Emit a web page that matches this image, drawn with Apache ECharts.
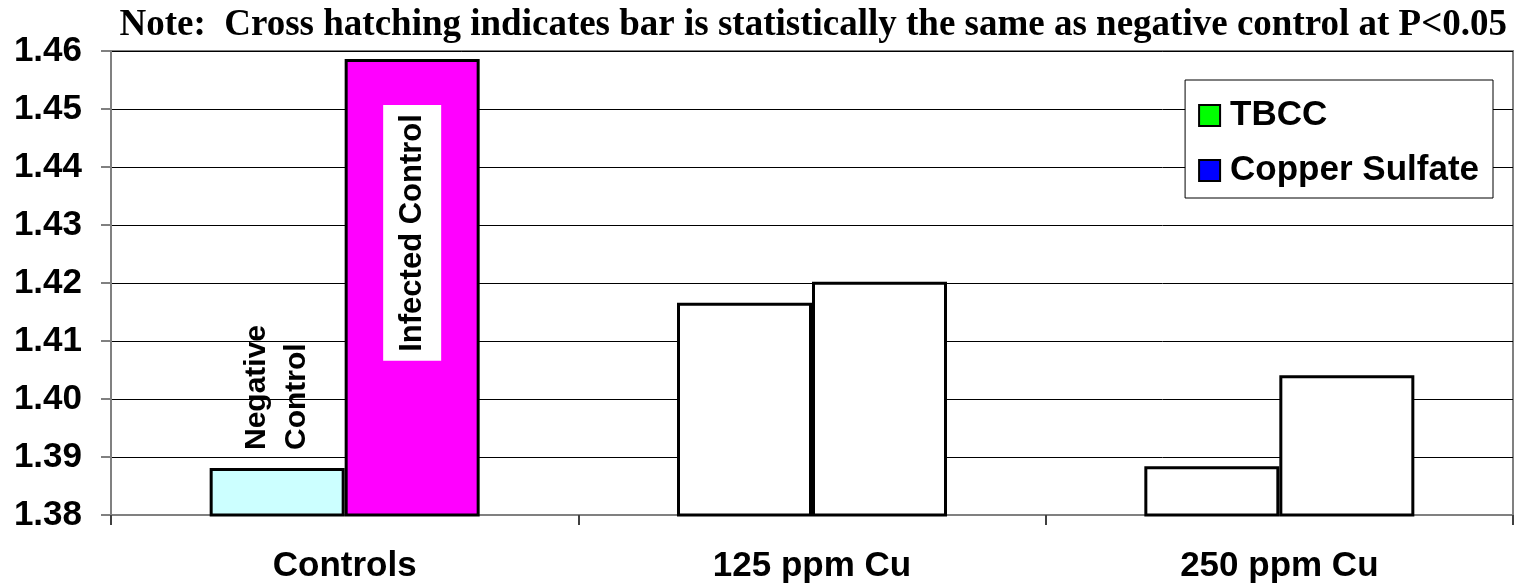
<!DOCTYPE html>
<html>
<head>
<meta charset="utf-8">
<script src="https://cdn.jsdelivr.net/npm/echarts@6/dist/echarts.min.js"></script>
<style>
  html, body { margin: 0; padding: 0; background: #fff; }
  #chart { width: 1524px; height: 587px; }
</style>
</head>
<body>
<div id="chart"></div>
<script>
// data
var categories = ['Controls', '125 ppm Cu', '250 ppm Cu'];
var tbcc = [1.3881, 1.4166, 1.3884];
var copperSulfate = [1.4586, 1.4202, 1.4041];
var yTicks = [1.38, 1.39, 1.40, 1.41, 1.42, 1.43, 1.44, 1.45, 1.46];

var sans = "'Liberation Sans', Arial, sans-serif";

var myChart = echarts.init(document.getElementById('chart'));

// controls bars get their own colours + labels, the rest are plain white
var tbccData = tbcc.map(function (v, i) {
    if (i === 0) {
        return {
            value: v,
            itemStyle: { color: '#CCFFFF' },
            label: {
                show: true,
                position: 'top',
                distance: 18,
                rotate: 90,
                align: 'left',
                verticalAlign: 'middle',
                formatter: 'Negative\nControl',
                fontFamily: sans,
                fontWeight: 'bold',
                fontSize: 30,
                lineHeight: 40,
                color: '#000'
            }
        };
    }
    return { value: v, itemStyle: { color: '#FFFFFF' } };
});

var cuData = copperSulfate.map(function (v, i) {
    if (i === 0) {
        return {
            value: v,
            itemStyle: { color: '#FF00FF' },
            label: {
                show: true,
                position: 'insideTop',
                distance: 46,
                rotate: 90,
                align: 'right',
                verticalAlign: 'middle',
                formatter: 'Infected Control',
                fontFamily: sans,
                fontWeight: 'bold',
                fontSize: 31,
                lineHeight: 36,
                color: '#000',
                backgroundColor: '#FFFFFF',
                padding: [11, 9]
            }
        };
    }
    return { value: v, itemStyle: { color: '#FFFFFF' } };
});

var option = {
    animation: false,
    backgroundColor: '#fff',
    title: {
        text: 'Note:  Cross hatching indicates bar is statistically the same as negative control at P<0.05',
        right: 12,
        top: 2,
        textStyle: {
            fontFamily: "'Liberation Serif', 'Times New Roman', serif",
            fontWeight: 'bold',
            fontSize: 37,
            color: '#000'
        }
    },
    legend: {
        orient: 'vertical',
        right: 31,
        top: 80,
        padding: [18, 14, 10, 13],
        itemGap: 20,
        itemWidth: 21,
        itemHeight: 21,
        backgroundColor: '#fff',
        borderColor: '#000',
        borderWidth: 1,
        itemStyle: { borderColor: '#000', borderWidth: 2 },
        textStyle: { fontFamily: sans, fontWeight: 'bold', fontSize: 35, color: '#000', padding: [0, 0, 0, 5] },
        data: [{ name: 'TBCC', icon: 'rect' }, { name: 'Copper Sulfate', icon: 'rect' }]
    },
    grid: {
        left: 111,
        right: 11,
        top: 51,
        bottom: 72,
        show: true,
        borderColor: '#808080',
        borderWidth: 2
    },
    xAxis: {
        type: 'category',
        data: categories,
        axisLine: { lineStyle: { color: '#808080', width: 2 } },
        axisTick: { show: true, length: 10, lineStyle: { color: '#404040', width: 2 } },
        axisLabel: {
            margin: 34,
            fontFamily: sans,
            fontWeight: 'bold',
            fontSize: 35,
            color: '#000'
        }
    },
    yAxis: {
        type: 'value',
        min: yTicks[0],
        max: yTicks[yTicks.length - 1],
        interval: 0.01,
        axisLine: { show: true, lineStyle: { color: '#808080', width: 2 } },
        axisTick: { show: true, length: 10, lineStyle: { color: '#808080', width: 2 } },
        splitLine: { show: true, lineStyle: { color: '#000', width: 1 } },
        axisLabel: {
            margin: 29,
            fontFamily: sans,
            fontWeight: 'bold',
            fontSize: 35,
            color: '#000',
            formatter: function (v) { return v.toFixed(2); }
        }
    },
    series: [
        {
            name: 'TBCC',
            type: 'bar',
            barWidth: 135,
            barGap: '0%',
            itemStyle: { color: '#00FF00', borderColor: '#000', borderWidth: 3 },
            data: tbccData
        },
        {
            name: 'Copper Sulfate',
            type: 'bar',
            barWidth: 135,
            barGap: '0%',
            itemStyle: { color: '#0000FF', borderColor: '#000', borderWidth: 3 },
            data: cuData
        }
    ]
};
myChart.setOption(option);
</script>
</body>
</html>
